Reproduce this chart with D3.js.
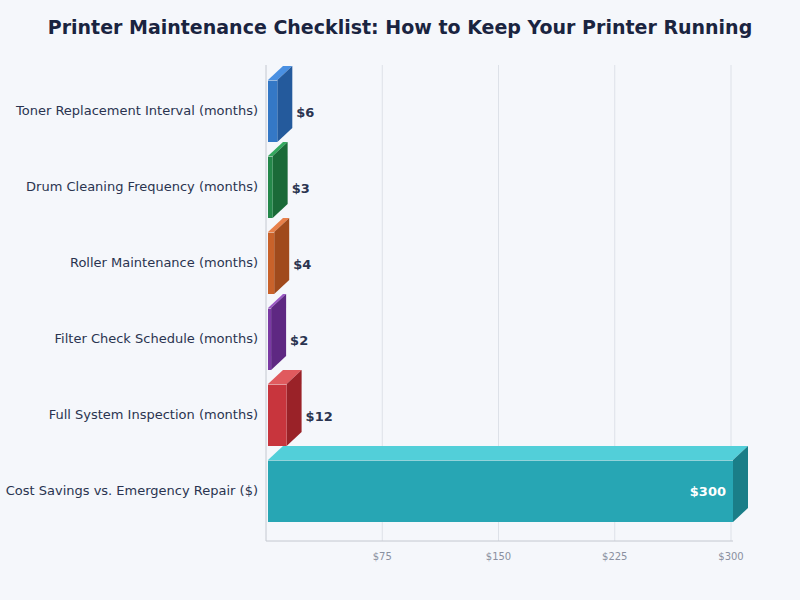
<!DOCTYPE html><html><head><meta charset="utf-8"><script src="https://cdn.jsdelivr.net/npm/d3@7"></script>
<style>body{margin:0;background:#f5f7fb;font-family:"DejaVu Sans",sans-serif}</style></head><body><svg id="c" width="800" height="600"></svg>
<script>
const categories=["Toner Replacement Interval (months)","Drum Cleaning Frequency (months)","Roller Maintenance (months)","Filter Check Schedule (months)","Full System Inspection (months)","Cost Savings vs. Emergency Repair ($)"];
const values=[6,3,4,2,12,300];
const frontColors=["#3478c6","#24884a","#c9622a","#7a39a3","#c8353d","#27a6b4"];
const topColors=["#4a90e2","#34a85e","#e8804a","#9a58c4","#e05a5e","#52cfd9"];
const sideColors=["#245a9c","#1a6a38","#a04a1c","#5e2882","#9a2228","#1a7e88"];
const tickVals=[75,150,225,300];
(function(){
const svg=d3.select("#c");
svg.append("rect").attr("width",800).attr("height",600).attr("fill","#f5f7fb");
svg.append("text").attr("x",400).attr("y",34).attr("text-anchor","middle").attr("font-size",19).attr("font-weight","bold").attr("fill","#1a2440").text("Printer Maintenance Checklist: How to Keep Your Printer Running");
const x=d3.scaleLinear().domain([0,300]).range([268,733]);
const y=d3.scaleBand().domain(categories).range([73,529]).paddingInner(14/76).paddingOuter(7/76);
const pTop=65,pBottom=541,dx=15,dy=14;
const g=svg.append("g");
tickVals.forEach(t=>g.append("line").attr("x1",x(t)-2).attr("x2",x(t)-2).attr("y1",pTop).attr("y2",pBottom).attr("stroke","#dde1e8"));
g.append("line").attr("x1",266).attr("x2",266).attr("y1",pTop).attr("y2",pBottom).attr("stroke","#c4c8d0");
g.append("line").attr("x1",266).attr("x2",733).attr("y1",pBottom).attr("y2",pBottom).attr("stroke","#c4c8d0");
tickVals.forEach(t=>g.append("text").attr("x",x(t)-2).attr("y",560).attr("text-anchor","middle").attr("font-size",10).attr("fill","#8a90a0").text("$"+t));
categories.forEach((c,i)=>{
 const x0=x(0),x1=x(values[i]),y0=y(c),h=y.bandwidth();
 g.append("polygon").attr("points",`${x0},${y0} ${x0+dx},${y0-dy} ${x1+dx},${y0-dy} ${x1},${y0}`).attr("fill",topColors[i]);
 g.append("polygon").attr("points",`${x1},${y0} ${x1+dx},${y0-dy} ${x1+dx},${y0+h-dy} ${x1},${y0+h}`).attr("fill",sideColors[i]);
 g.append("rect").attr("x",x0).attr("y",y0).attr("width",x1-x0).attr("height",h).attr("fill",frontColors[i]);
 g.append("line").attr("x1",x0).attr("x2",x1).attr("y1",y0+0.5).attr("y2",y0+0.5).attr("stroke","#fff").attr("stroke-opacity",0.5);
 g.append("text").attr("x",258).attr("y",y0+h/2+4).attr("text-anchor","end").attr("font-size",13).attr("fill","#2a3450").text(c);
 if(values[i]>=100) g.append("text").attr("x",x1-7).attr("y",y0+h/2+5).attr("text-anchor","end").attr("font-size",13).attr("font-weight","bold").attr("fill","#fff").text("$"+values[i]);
 else g.append("text").attr("x",x1+dx+4).attr("y",y0+h/2+6).attr("font-size",13).attr("font-weight","bold").attr("fill","#2a3450").text("$"+values[i]);
});
})();
</script></body></html>
